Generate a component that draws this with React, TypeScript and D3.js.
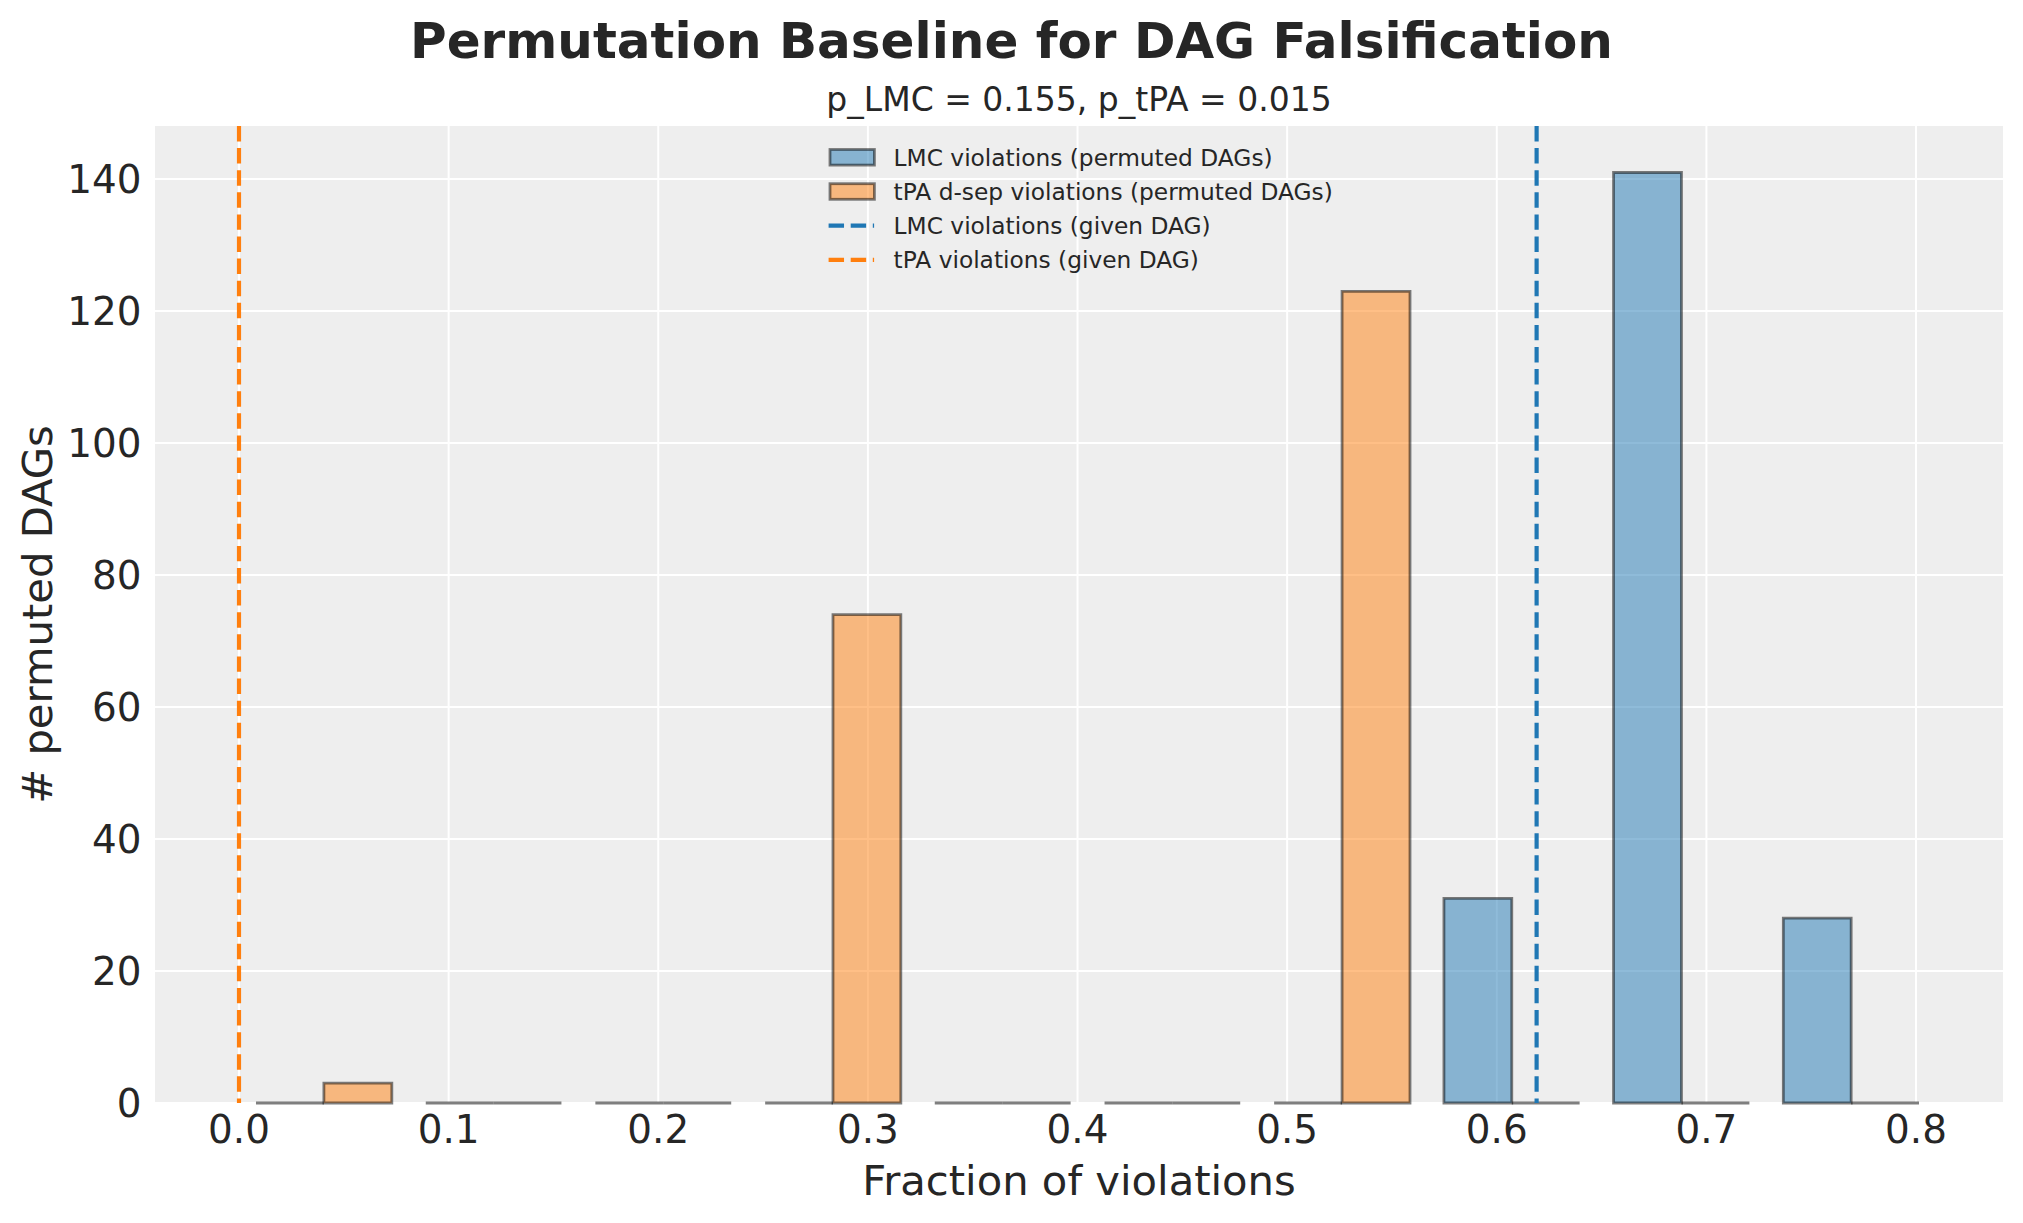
import React from "react";
import * as d3 from "d3";

// ---- data ----
const binEdges = [0, 0.081, 0.1619, 0.2429, 0.3238, 0.4048, 0.4857, 0.5667, 0.6476, 0.7286, 0.8095];
const lmcCounts = [0, 0, 0, 0, 0, 0, 0, 31, 141, 28];
const tpaCounts = [3, 0, 0, 74, 0, 0, 123, 0, 0, 0];
const lmcGiven = 0.619;
const tpaGiven = 0.0;
const xTicks = [0, 0.1, 0.2, 0.3, 0.4, 0.5, 0.6, 0.7, 0.8];
const yTicks = [0, 20, 40, 60, 80, 100, 120, 140];
const titleText = "Permutation Baseline for DAG Falsification";
const subtitleText = "p_LMC = 0.155, p_tPA = 0.015";
const xLabel = "Fraction of violations";
const yLabel = "# permuted DAGs";
const legendLabels = [
  "LMC violations (permuted DAGs)",
  "tPA d-sep violations (permuted DAGs)",
  "LMC violations (given DAG)",
  "tPA violations (given DAG)",
];

const W = 2023;
const H = 1223;
const M = { left: 155, right: 20, top: 126, bottom: 120 };
const BLUE = "#1f77b4";
const ORANGE = "#ff7f0e";
const TEXT = "#262626";
const FONT = "DejaVu Sans, sans-serif";

export default function App() {
  const nb = lmcCounts.length;
  const bars: { x0: number; x1: number; v: number; c: string }[] = [];
  for (let i = 0; i < nb; i++) {
    const bw = binEdges[i + 1] - binEdges[i];
    const dw = 0.4 * bw;
    const c = (binEdges[i] + binEdges[i + 1]) / 2;
    bars.push({ x0: c - dw, x1: c, v: lmcCounts[i], c: BLUE });
    bars.push({ x0: c, x1: c + dw, v: tpaCounts[i], c: ORANGE });
  }
  const dataMin = Math.min(tpaGiven, d3.min(bars, (b) => b.x0)!);
  const dataMax = Math.max(lmcGiven, d3.max(bars, (b) => b.x1)!);
  const pad = 0.05 * (dataMax - dataMin);
  const x = d3.scaleLinear().domain([dataMin - pad, dataMax + pad]).range([M.left, W - M.right]);
  const yMax = d3.max([...lmcCounts, ...tpaCounts])! * 1.05;
  const y = d3.scaleLinear().domain([0, yMax]).range([H - M.bottom, M.top]);

  const plotL = M.left, plotR = W - M.right, plotT = M.top, plotB = H - M.bottom;
  const cx = (plotL + plotR) / 2;
  const cy = (plotT + plotB) / 2;

  const barPath = (b: { x0: number; x1: number; v: number }) => {
    const xa = x(b.x0), xb = x(b.x1), ya = y(0), yb = y(b.v);
    return `M${xa},${ya}V${yb}H${xb}V${ya}Z`;
  };

  const lw = 4.17;
  const dash = `${3.7 * lw},${1.6 * lw}`;
  const legX = 828.6;
  const legTextX = 893.6;
  const legRow0 = 157.3;
  const legStep = 34.2;

  return (
    <svg
      width={W}
      height={H}
      style={{ position: "absolute", left: 0, top: 0, background: "#fff" }}
      fontFamily={FONT}
    >
      <rect x={0} y={0} width={W} height={H} fill="#fff" />
      <rect x={plotL} y={plotT} width={plotR - plotL} height={plotB - plotT} fill="#eeeeee" />
      {/* grid */}
      {xTicks.map((t) => (
        <line key={"gx" + t} x1={x(t)} x2={x(t)} y1={plotT} y2={plotB} stroke="#fff" strokeWidth={2} />
      ))}
      {yTicks.map((t) => (
        <line key={"gy" + t} x1={plotL} x2={plotR} y1={y(t)} y2={y(t)} stroke="#fff" strokeWidth={2} />
      ))}
      {/* bars */}
      {bars.map((b, i) => (
        <path
          key={"b" + i}
          d={barPath(b)}
          fill={b.c}
          fillOpacity={0.5}
          stroke="#000"
          strokeOpacity={0.5}
          strokeWidth={2.8}
        />
      ))}
      {/* given DAG lines */}
      <line x1={x(lmcGiven)} x2={x(lmcGiven)} y1={plotT} y2={plotB} stroke={BLUE} strokeWidth={lw} strokeDasharray={dash} />
      <line x1={x(tpaGiven)} x2={x(tpaGiven)} y1={plotT} y2={plotB} stroke={ORANGE} strokeWidth={lw} strokeDasharray={dash} />
      {/* ticks */}
      {xTicks.map((t) => (
        <text key={"tx" + t} x={x(t)} y={1143} textAnchor="middle" fontSize={38.9} fill={TEXT}>
          {d3.format(".1f")(t)}
        </text>
      ))}
      {yTicks.map((t) => (
        <text key={"ty" + t} x={141.6} y={y(t)} dy="0.36em" textAnchor="end" fontSize={38.9} fill={TEXT}>
          {t}
        </text>
      ))}
      {/* axis labels */}
      <text x={cx} y={1195} textAnchor="middle" fontSize={41.7} fill={TEXT}>
        {xLabel}
      </text>
      <text transform={`translate(51.7,${cy}) rotate(-90)`} textAnchor="middle" fontSize={41.7} fill={TEXT}>
        {yLabel}
      </text>
      {/* titles */}
      <text x={W / 2} y={58.3} textAnchor="middle" fontSize={50} fontWeight="bold" fill={TEXT}>
        {titleText}
      </text>
      <text x={cx} y={110.5} textAnchor="middle" fontSize={33} fill={TEXT}>
        {subtitleText}
      </text>
      {/* legend */}
      {legendLabels.map((lab, i) => {
        const ry = legRow0 + i * legStep;
        return (
          <g key={"lg" + i}>
            {i < 2 ? (
              <rect
                x={legX + 1.4}
                y={ry - 7.8}
                width={44.4}
                height={15.6}
                fill={i === 0 ? BLUE : ORANGE}
                fillOpacity={0.5}
                stroke="#000"
                strokeOpacity={0.5}
                strokeWidth={2.8}
              />
            ) : (
              <line
                x1={legX}
                x2={legX + 45.5}
                y1={ry}
                y2={ry}
                stroke={i === 2 ? BLUE : ORANGE}
                strokeWidth={lw}
                strokeDasharray={dash}
              />
            )}
            <text x={legTextX} y={ry} dy="0.36em" fontSize={23.3} fill={TEXT}>
              {lab}
            </text>
          </g>
        );
      })}
    </svg>
  );
}
